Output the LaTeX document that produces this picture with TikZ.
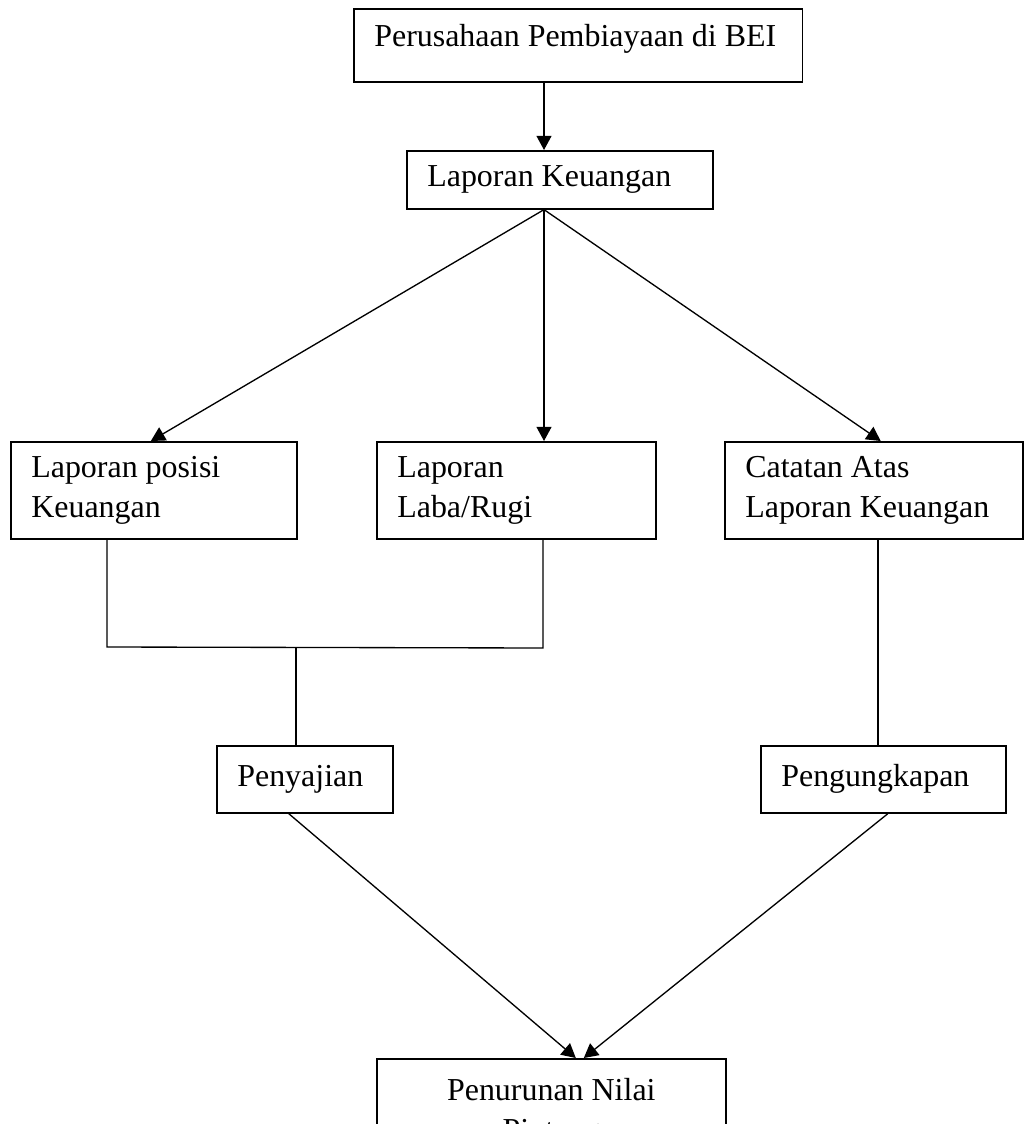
\documentclass[tikz,border=0pt]{standalone}
\usepackage{fontspec}
\setmainfont{Liberation Serif}
\usepackage{tikz}
\usetikzlibrary{shapes,arrows.meta,positioning,calc}
\tikzset{
    kotak/.style={rectangle, draw=black, line width=0.6pt, anchor=north west, inner xsep=7.7pt, align=flush left, font=\fontsize{12}{15}\selectfont},
    garis/.style={line width=0.5pt, black},
    panah/.style={line width=0.5pt, black, -{Triangle[length=5.3pt, width=5.6pt]}},
}

\begin{document}
\begin{tikzpicture}[x=0.3756pt, y=-0.3756pt]
    \useasboundingbox (0,0) rectangle (1024,1124);

    % Perusahaan dan laporan
    \node[kotak, minimum width=168.6pt, minimum height=27.4pt, text width=153.2pt, text height=8.4pt, text depth=7.5pt] (perusahaan) at (353,8) {Perusahaan Pembiayaan di BEI};
    \node[kotak, minimum width=114.9pt, minimum height=21.8pt, text width=99.5pt] (lapkeu) at (406,150) {Laporan Keuangan};

    % Jenis laporan
    \node[kotak, minimum width=107.4pt, minimum height=36.4pt, text width=92.0pt] (posisi) at (10,441) {Laporan posisi\\Keuangan};
    \node[kotak, minimum width=104.8pt, minimum height=36.4pt, text width=89.4pt] (labarugi) at (376,441) {Laporan\\Laba/Rugi};
    \node[kotak, minimum width=111.9pt, minimum height=36.4pt, text width=96.5pt] (catatan) at (724,441) {Catatan Atas\\Laporan Keuangan};

    % Penyajian dan pengungkapan
    \node[kotak, minimum width=66.1pt, minimum height=25.2pt, text width=50.7pt] (penyajian) at (216,745) {Penyajian};
    \node[kotak, minimum width=92.0pt, minimum height=25.2pt, text width=76.6pt] (pengungkapan) at (760,745) {Pengungkapan};

    % Hasil
    \node[kotak, align=flush center, minimum width=131.1pt, minimum height=40.6pt, text width=115.7pt] (penurunan) at (376,1058) {Penurunan Nilai\\Piutang};

    % Panah dari atas
    \coordinate (tengah) at (544,0);
    \coordinate (ujung1) at ([xshift=-1.1pt]posisi.north);
    \coordinate (ujung2) at (tengah |- labarugi.north);
    \coordinate (ujung3) at ([xshift=2.6pt]catatan.north);
    \draw[panah] (tengah |- perusahaan.south) -- (tengah |- lapkeu.north);
    \foreach \i in {1,2,3} {
        \draw[panah] (tengah |- lapkeu.south) -- (ujung\i);
    }

    % Penggabungan
    \coordinate (kiri) at (107,647);
    \coordinate (kanan) at (543,648);
    \coordinate (temu) at (296,647);
    \coordinate (sisi) at (878,0);
    \draw[garis] (kiri |- posisi.south) -- (kiri) -- (kanan) -- (kanan |- labarugi.south);
    \draw[garis] (temu) -- (temu |- penyajian.north);
    \draw[garis] (sisi |- catatan.south) -- (sisi |- pengungkapan.north);

    % Menuju hasil
    \draw[panah] ([xshift=-6pt]penyajian.south) -- ([xshift=9.2pt]penurunan.north);
    \draw[panah] ([xshift=1.7pt]pengungkapan.south) -- ([xshift=12.2pt]penurunan.north);
\end{tikzpicture}
\end{document}
